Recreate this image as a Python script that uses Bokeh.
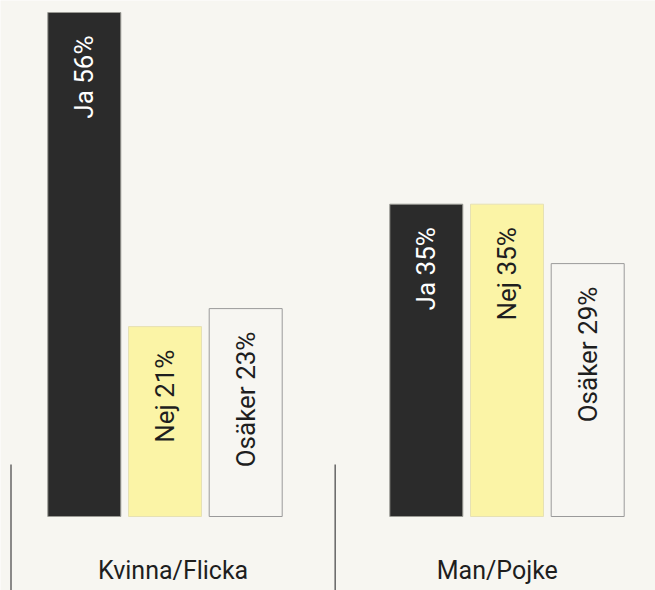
import math
from bokeh.plotting import figure
from bokeh.models import Range1d, ColumnDataSource
from bokeh.core.properties import value
from bokeh.embed import file_html
from bokeh.resources import INLINE

# ---- data ----
categories = ["Kvinna/Flicka", "Man/Pojke"]
answers = ["Ja", "Nej", "Osäker"]
kvinna_values = [56.0, 21.1, 23.1]
man_values = [34.7, 34.7, 28.1]
kvinna_labels = ["Ja 56%", "Nej 21%", "Osäker 23%"]
man_labels = ["Ja 35%", "Nej 35%", "Osäker 29%"]

# ---- style / layout ----
W, H = 655, 590
BG = "#f7f6f1"
BAR_FONT = "Roboto"
CAT_FONT = "Roboto"
fills = {"Ja": "#2b2b2b", "Nej": "#fbf4a6", "Osäker": "#f7f6f2"}
lines = {"Ja": "#9a9a94", "Nej": "#e6e1b4", "Osäker": "#9a9a9a"}
text_cols = {"Ja": "#ffffff", "Nej": "#1e1e1e", "Osäker": "#1e1e1e"}

PX_PER_UNIT = 9.0      # vertical pixels per percent
BASE_PX = 516.0        # baseline distance from top
GROUP_START = 47.3
GROUP_STEP = 342.0
BAR_STEP = 80.7
BAR_W = 73.0
SEP_START = 10.5
BAND_W = 324.2
SEP_TOP_PX = 464.0
LABEL_MID_PX = 570.0

def py(px):
    return (BASE_PX - px) / PX_PER_UNIT

p = figure(width=W, height=H, x_range=Range1d(0, W),
           y_range=Range1d(py(H), py(0)),
           toolbar_location=None, output_backend="svg", min_border=0)
p.axis.visible = False
p.grid.visible = False
p.outline_line_color = None
p.background_fill_color = BG
p.border_fill_color = BG

xs, tops, fc, lc, tc, labs = [], [], [], [], [], []
for g, (vals, labels) in enumerate([(kvinna_values, kvinna_labels), (man_values, man_labels)]):
    for i, (a, v, lab) in enumerate(zip(answers, vals, labels)):
        xs.append(GROUP_START + g * GROUP_STEP + BAR_W / 2 + i * BAR_STEP)
        tops.append(v)
        fc.append(fills[a]); lc.append(lines[a]); tc.append(text_cols[a]); labs.append(lab)

src = ColumnDataSource(dict(x=xs, top=tops, fc=fc, lc=lc, tc=tc, lab=labs))
p.vbar(x="x", top="top", bottom=0, width=BAR_W, fill_color="fc", line_color="lc",
       line_width=1, source=src)
p.text(x="x", y="top", text="lab", angle=math.pi / 2, text_align="right",
       text_baseline="middle", y_offset=23, text_color="tc",
       text_font=value(BAR_FONT), text_font_size="26px", source=src)

sep_x = [SEP_START + g * BAND_W for g in range(len(categories))]
p.segment(x0=sep_x, x1=sep_x, y0=[py(SEP_TOP_PX)] * 2, y1=[py(H)] * 2,
          line_color="#6e6e6e", line_width=1.6)

cat_src = ColumnDataSource(dict(x=[s + BAND_W / 2 for s in sep_x],
                                y=[py(LABEL_MID_PX)] * 2, t=categories))
p.text(x="x", y="y", text="t", text_align="center", text_baseline="middle",
       text_color="#1e1e1e", text_font=value(CAT_FONT), text_font_size="25px",
       source=cat_src)

open("out.html", "w").write(file_html(p, INLINE))
